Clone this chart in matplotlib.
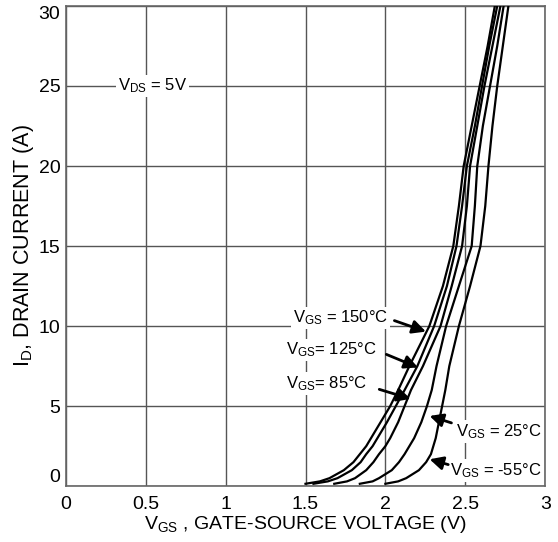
import numpy as np
import matplotlib
matplotlib.use("Agg")
import matplotlib.pyplot as plt

plt.rcParams['font.family'] = ['Liberation Sans', 'DejaVu Sans']
plt.rcParams['mathtext.fontset'] = 'custom'
plt.rcParams['mathtext.rm'] = 'Liberation Sans'
plt.rcParams['mathtext.it'] = 'Liberation Sans'

# drain current levels (A) and gate voltage (V) read for each curve
i_d = [0.15, 0.3, 0.5, 1, 1.5, 2, 2.5, 3, 4, 5, 6, 7.5, 10, 12.5, 15, 17.5, 20, 22.5, 25, 27.5, 30]
v_150 = [1.50, 1.59, 1.65, 1.74, 1.80, 1.84, 1.88, 1.91, 1.97, 2.03, 2.08, 2.15, 2.275, 2.36, 2.425, 2.46, 2.49, 2.54, 2.59, 2.64, 2.685]
v_125 = [1.55, 1.64, 1.70, 1.79, 1.845, 1.88, 1.92, 1.95, 2.01, 2.065, 2.12, 2.20, 2.305, 2.385, 2.445, 2.48, 2.51, 2.56, 2.605, 2.65, 2.70]
v_85 = [1.68, 1.76, 1.81, 1.88, 1.925, 1.96, 2.00, 2.03, 2.08, 2.12, 2.16, 2.235, 2.345, 2.415, 2.48, 2.51, 2.53, 2.575, 2.62, 2.67, 2.72]
v_25 = [1.84, 1.92, 1.96, 2.04, 2.085, 2.12, 2.15, 2.18, 2.225, 2.26, 2.29, 2.32, 2.38, 2.46, 2.54, 2.56, 2.575, 2.61, 2.655, 2.70, 2.74]
v_m55 = [2.00, 2.08, 2.13, 2.21, 2.255, 2.285, 2.30, 2.315, 2.335, 2.355, 2.375, 2.40, 2.46, 2.53, 2.595, 2.625, 2.645, 2.67, 2.70, 2.735, 2.77]

xticks = [0, 0.5, 1, 1.5, 2, 2.5, 3]
xticklabels = ['0', '0.5', '1', '1.5', '2', '2.5', '3']
yticks = [0, 5, 10, 15, 20, 25, 30]

fig = plt.figure(figsize=(5.58, 5.42), dpi=100)
ax = fig.add_axes([0.118, 0.103, 0.859, 0.886])

for v in [v_150, v_125, v_85, v_25, v_m55]:
    ax.plot(v, i_d, color='black', lw=1.6, zorder=3, solid_joinstyle='round')

ax.set_xlim(0, 3)
ax.set_ylim(0, 30)
ax.set_xticks(xticks)
ax.set_xticklabels(xticklabels)
ax.set_yticks(yticks)
ax.tick_params(length=0, labelsize=14)
ax.tick_params(axis='x', pad=7)
ax.tick_params(axis='y', pad=4)
# end labels sit inside the frame like the original
ylabs = ax.get_yticklabels()
ylabs[0].set_va('bottom')
ylabs[-1].set_va('top')
ax.grid(True, color='#555555', lw=1)
for s in ax.spines.values():
    s.set_color('#666666')
    s.set_linewidth(1.2)

ax.set_xlabel(r'V$_{\rm GS}$ , GATE-SOURCE VOLTAGE (V)', fontsize=14, labelpad=1)
ax.set_ylabel(r'I$_{\rm D}$, DRAIN CURRENT (A)', fontsize=15.5, labelpad=2)

box = dict(facecolor='white', edgecolor='none', pad=1.5)
ax.text(0.54, 25, r'V$_{\rm DS}$ = 5V', fontsize=12, ha='center', va='center', bbox=box, zorder=4)

arrow = dict(arrowstyle='-|>', color='black', lw=2, mutation_scale=20)
labels = [
    (r'V$_{\rm GS}$ = 150°C', (1.72, 10.5), (2.27, 9.6), (2.04, 10.4)),
    (r'V$_{\rm GS}$= 125°C', (1.66, 8.5), (2.22, 7.35), (1.99, 8.3)),
    (r'V$_{\rm GS}$= 85°C', (1.63, 6.4), (2.175, 5.4), (1.945, 6.1)),
    (r'V$_{\rm GS}$ = 25°C', (2.71, 3.4), (2.26, 4.44), (2.43, 3.9)),
    (r'V$_{\rm GS}$ = -55°C', (2.69, 1.0), (2.26, 1.73), (2.41, 1.3)),
]
for txt, pos, tip, start in labels:
    ax.text(pos[0], pos[1], txt, fontsize=12, ha='center', va='center', bbox=box, zorder=4)
    ax.annotate('', xy=tip, xytext=start, arrowprops=arrow, zorder=5)

fig.savefig('out.png', dpi=100)
